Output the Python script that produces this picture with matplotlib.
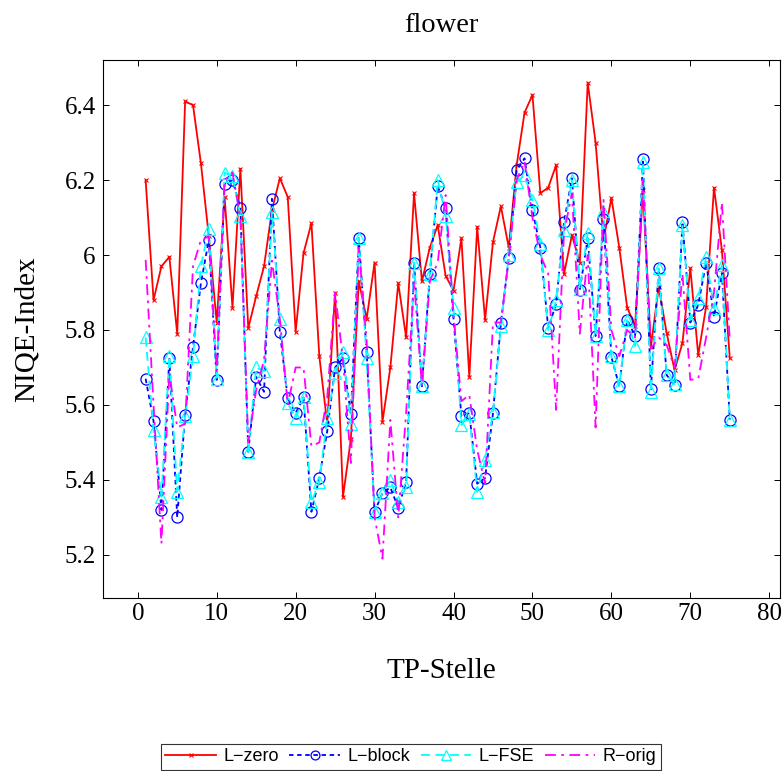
import matplotlib
matplotlib.use("Agg")
import matplotlib.pyplot as plt

# TP-Stelle 1..75
tp = list(range(1, 76))

l_zero = [6.20, 5.88, 5.97, 5.995, 5.79, 6.41, 6.40, 6.245, 6.05, 5.82,
          6.155, 5.86, 6.23, 5.805, 5.89, 5.97, 6.12, 6.205, 6.155, 5.795,
          6.005, 6.085, 5.73, 5.55, 5.90, 5.355, 5.51, 5.93, 5.83, 5.98,
          5.555, 5.70, 5.925, 5.78, 6.165, 5.93, 6.02, 6.08, 5.945, 5.905,
          6.045, 5.675, 6.075, 5.827, 6.035, 6.13, 6.02, 6.24, 6.38, 6.427,
          6.165, 6.18, 6.24, 5.95, 6.053, 5.98, 6.46, 6.30, 6.04, 6.152,
          6.02, 5.86, 5.81, 6.173, 5.755, 5.915, 5.792, 5.693, 5.765, 5.965,
          5.733, 5.862, 6.18, 6.013, 5.725]

l_block = [5.67, 5.557, 5.32, 5.725, 5.30, 5.573, 5.755, 5.925, 6.04, 5.667,
           6.19, 6.20, 6.125, 5.475, 5.675, 5.635, 6.15, 5.795, 5.618, 5.578,
           5.62, 5.315, 5.405, 5.53, 5.70, 5.725, 5.575, 6.045, 5.74, 5.315,
           5.365, 5.38, 5.325, 5.395, 5.98, 5.65, 5.95, 6.185, 6.125, 5.83,
           5.57, 5.578, 5.39, 5.405, 5.578, 5.818, 5.992, 6.227, 6.258, 6.12,
           6.02, 5.805, 5.87, 6.088, 6.205, 5.907, 6.045, 5.784, 6.095, 5.728,
           5.65, 5.827, 5.784, 6.255, 5.642, 5.965, 5.68, 5.653, 6.088, 5.82,
           5.867, 5.98, 5.835, 5.952, 5.56]

l_fse = [5.78, 5.533, 5.355, 5.73, 5.368, 5.57, 5.73, 5.97, 6.07, 5.67,
         6.22, 6.21, 6.105, 5.475, 5.70, 5.69, 6.115, 5.83, 5.605, 5.565,
         5.62, 5.34, 5.395, 5.565, 5.685, 5.74, 5.55, 6.045, 5.725, 5.315,
         5.365, 5.40, 5.34, 5.38, 5.98, 5.65, 5.95, 6.20, 6.105, 5.86,
         5.547, 5.575, 5.368, 5.453, 5.58, 5.81, 6.0, 6.195, 6.213, 6.147,
         6.03, 5.80, 5.88, 6.067, 6.20, 5.91, 6.06, 5.785, 6.117, 5.73,
         5.65, 5.827, 5.757, 6.248, 5.635, 5.965, 5.68, 5.656, 6.08, 5.827,
         5.885, 5.995, 5.858, 5.973, 5.56]

r_orig = [5.987, 5.60, 5.23, 5.685, 5.54, 5.55, 5.97, 6.04, 6.05, 5.69,
          6.20, 6.22, 6.10, 5.50, 5.64, 5.72, 5.985, 5.83, 5.60, 5.70,
          5.70, 5.49, 5.50, 5.62, 5.90, 5.72, 5.445, 6.02, 5.77, 5.30,
          5.19, 5.56, 5.30, 5.58, 5.93, 5.65, 5.93, 5.98, 6.16, 5.84,
          5.61, 5.627, 5.48, 5.39, 5.82, 5.82, 5.99, 6.20, 6.25, 6.10,
          6.00, 5.95, 5.587, 6.06, 6.165, 5.79, 6.00, 5.54, 6.147, 5.80,
          5.73, 5.80, 5.78, 6.20, 5.75, 5.78, 5.76, 5.70, 5.95, 5.667,
          5.67, 5.78, 5.90, 6.14, 5.773]

serif = "Liberation Serif"
sans = "Liberation Sans"

fig = plt.figure(figsize=(7.84, 7.71), dpi=100)
ax = fig.add_axes([0.131, 0.2244, 0.864, 0.6976])

ax.plot(tp, l_zero, color="#ff0000", lw=1.3, marker="x", ms=3, mew=0.8,
        label="L\u2212zero")
ax.plot(tp, l_block, color="#0000ff", lw=1.3, ls=(0, (2.5, 2)), marker="o",
        ms=8, mfc="none", mew=0.9, label="L\u2212block")
ax.plot(tp, l_fse, color="#00ffff", lw=1.3, ls=(0, (5, 3)), marker="^",
        ms=9, mfc="none", mew=0.9, label="L\u2212FSE")
ax.plot(tp, r_orig, color="#ff00ff", lw=1.3, ls=(0, (6, 3, 1.5, 3)),
        label="R\u2212orig")

ax.set_xlim(-4.44, 81.37)
ax.set_ylim(5.085, 6.52)
ax.set_xticks(range(0, 81, 10))
ax.set_yticks([5.2, 5.4, 5.6, 5.8, 6.0, 6.2, 6.4])
ax.set_yticklabels(["5.2", "5.4", "5.6", "5.8", "6", "6.2", "6.4"])
ax.tick_params(direction="in", top=True, right=True, length=4, width=0.7,
               labelsize=18)
ax.tick_params(axis="y", pad=5)
for lab in ax.get_xticklabels() + ax.get_yticklabels():
    lab.set_fontfamily(serif)
for sp in ax.spines.values():
    sp.set_linewidth(0.8)

ax.set_title("flower", fontfamily=serif, fontsize=20.5, pad=20)
ax.set_xlabel("TP-Stelle", fontfamily=serif, fontsize=21, labelpad=24)
ax.set_ylabel("NIQE-Index", fontfamily=serif, fontsize=21, labelpad=18)

leg = fig.legend(loc="lower center", bbox_to_anchor=(0.524, -0.01), ncol=4,
                 frameon=True, fancybox=False, edgecolor="black",
                 prop={"family": sans, "size": 13}, handlelength=2.8,
                 columnspacing=0.6, handletextpad=0.4, borderpad=0.25,
                 markerscale=0.8)
leg.get_frame().set_linewidth(0.8)

fig.savefig("out.png", dpi=100)
